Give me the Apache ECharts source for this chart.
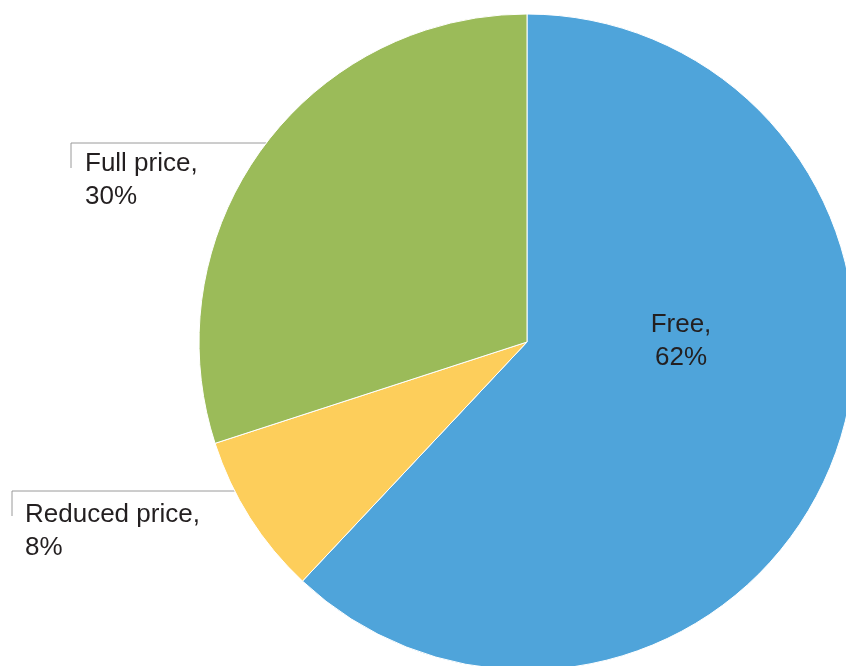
<!DOCTYPE html>
<html>
<head>
<meta charset="utf-8">
<style>
  html, body { margin: 0; padding: 0; background: #fff; }
  #chart { width: 846px; height: 666px; }
</style>
<script src="https://cdn.jsdelivr.net/npm/echarts@6/dist/echarts.min.js"></script>
</head>
<body>
<div id="chart"></div>
<script>
// data
const categories = ["Free", "Reduced price", "Full price"];
const shares = [62, 8, 30];
const colors = ["#4fa4da", "#fdce5b", "#9bbb59"];

// layout (px)
const cx = 527, cy = 342, r = 328;
// label anchor + leader line elbow for each slice
const labelPos = {
  "Free": { x: 681, y: 341, align: "center" },
  "Full price": { x: 85, y: 180, align: "left", lineX: 71, lineY: 143 },
  "Reduced price": { x: 25, y: 531, align: "left", lineX: 12, lineY: 491 }
};

const edgeX = y => cx - Math.sqrt(r * r - (y - cy) * (y - cy));

const chart = echarts.init(document.getElementById("chart"));
chart.setOption({
  animation: false,
  series: [
    {
      type: "pie",
      center: [cx, cy],
      radius: r,
      startAngle: 90,
      clockwise: true,
      avoidLabelOverlap: false,
      itemStyle: {
        borderColor: "#ffffff",
        borderWidth: 1
      },
      label: {
        show: true,
        position: "outside",
        formatter: "{b},\n{c}%",
        fontFamily: "Liberation Sans, Arial, sans-serif",
        fontSize: 26,
        lineHeight: 33,
        color: "#231f20"
      },
      labelLine: {
        show: true,
        length: 10,
        length2: 10,
        lineStyle: { color: "#9a9a9a", width: 1 }
      },
      emphasis: { disabled: true },
      labelLayout: params => {
        const name = categories[params.dataIndex];
        const p = labelPos[name];
        const out = {
          x: p.x,
          y: p.y,
          align: p.align,
          verticalAlign: "middle"
        };
        if (p.lineX !== undefined) {
          out.labelLinePoints = [
            [edgeX(p.lineY), p.lineY],
            [p.lineX, p.lineY],
            [p.lineX, p.lineY + 25]
          ];
        }
        return out;
      },
      data: categories.map((name, i) => ({
        name: name,
        value: shares[i],
        itemStyle: { color: colors[i] },
        labelLine: { show: name !== "Free" }
      }))
    }
  ]
});
</script>
</body>
</html>
